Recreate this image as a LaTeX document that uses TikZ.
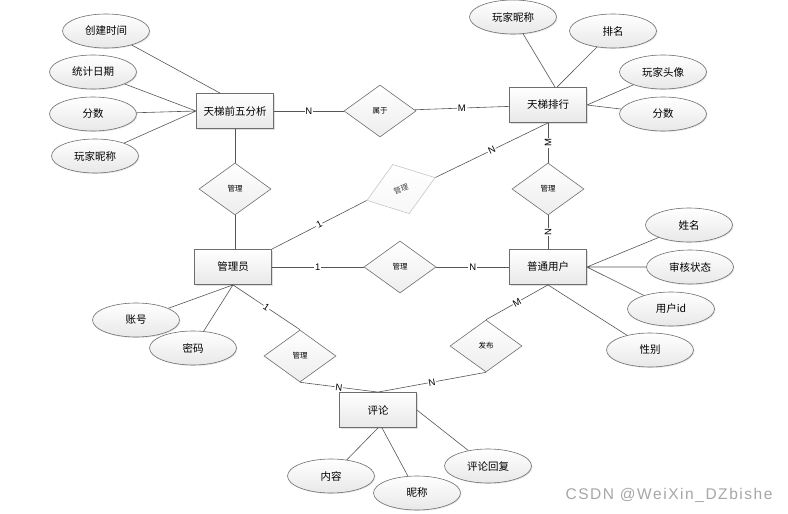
\documentclass[tikz,border=0pt]{standalone}
\usepackage{fontspec}
\setmainfont{Liberation Sans}
\newfontfamily\cjk{Noto Sans CJK SC}
\newfontfamily\wmfont[LetterSpace=10]{Liberation Sans}
\usetikzlibrary{shapes.geometric,shadows}
\definecolor{edgegray}{RGB}{85,85,85}
\definecolor{boxgray}{RGB}{110,110,110}
\begin{document}
\begin{tikzpicture}[x=1pt,y=-1pt,
    line/.style={draw=edgegray,line width=0.6pt},
    ent/.style={rectangle,draw=boxgray,line width=0.8pt,top color=white,bottom color=gray!18,minimum width=77pt,minimum height=35pt,font=\cjk\fontsize{10.5}{12}\selectfont,drop shadow={opacity=0.25,shadow xshift=1pt,shadow yshift=-1pt}},
    attr/.style={ellipse,draw=boxgray,line width=0.6pt,top color=white,bottom color=gray!18,minimum width=87pt,minimum height=34pt,inner sep=0pt,font=\cjk\fontsize{10.5}{12}\selectfont,drop shadow={opacity=0.2,shadow xshift=1pt,shadow yshift=-1pt}},
    rel/.style={diamond,draw=boxgray,line width=0.6pt,top color=white,bottom color=gray!14,minimum width=72pt,minimum height=52pt,inner sep=0pt,font=\cjk\fontsize{7.5}{9}\selectfont},
    lab/.style={fill=white,inner sep=0.8pt,font=\fontsize{9.5}{10}\selectfont}]
    \useasboundingbox (0,0) rectangle (788,514);
    \node[ent](jf) at (235,111){天梯前五分析};
    \node[ent](ph) at (548,105){天梯排行};
    \node[ent](gly) at (233,267){管理员};
    \node[ent](yh) at (548,267){普通用户};
    \node[ent](pl) at (378,410){评论};
    \node[rel](sy) at (380,111){属于};
    \node[rel](gl1) at (235,189){管理};
    \node[rel,draw=gray!45,text=gray!55!black,bottom color=gray!6,rotate=18.5](gl2) at (401,189){管理};
    \node[rel](gl3) at (400,267){管理};
    \node[rel](gl4) at (548,189){管理};
    \node[rel](gl5) at (300,356){管理};
    \node[rel](fb) at (486,346){发布};
    \node[attr](cjsj) at (106,31){创建时间};
    \node[attr](tjrq) at (93,72){统计日期};
    \node[attr](fs1) at (93,114){分数};
    \node[attr](nc1) at (95,156){玩家昵称};
    \node[attr](nc2) at (513,17){玩家昵称};
    \node[attr](pm) at (613,31){排名};
    \node[attr](tx) at (663,72){玩家头像};
    \node[attr](fs2) at (663,114){分数};
    \node[attr](xm) at (689,225){姓名};
    \node[attr](shzt) at (690,267){审核状态};
    \node[attr](yhid) at (671,309){用户id};
    \node[attr](xb) at (650,350){性别};
    \node[attr](zh) at (136,320){账号};
    \node[attr](mm) at (193,348){密码};
    \node[attr](nr) at (331,476){内容};
    \node[attr](nc3) at (417,493){昵称};
    \node[attr](hf) at (488,466){评论回复};
    \draw[line](cjsj)--([xshift=-15pt]jf.north);
    \draw[line](tjrq)--(jf.west) (fs1)--(jf.west) (nc1)--(jf.west);
    \draw[line](jf)--node[lab]{N}(sy);
    \draw[line](sy)--node[lab]{M}(ph);
    \draw[line](jf)--(gl1) (gl1)--(gl1|-gly.north);
    \draw[line](gly.north east)--node[lab,sloped]{1}(gl2.west);
    \draw[line](gl2.east)--node[lab,sloped]{N}(ph.south);
    \draw[line](gly)--node[lab]{1}(gl3);
    \draw[line](gl3)--node[lab]{N}(yh);
    \draw[line](ph)--node[lab,rotate=90]{M}(gl4);
    \draw[line](gl4)--node[lab,rotate=90]{N}(yh);
    \draw[line]([xshift=7pt]ph.north)--(nc2) ([xshift=9pt]ph.north)--(pm);
    \draw[line](ph.east)--(tx) (ph.east)--(fs2);
    \draw[line](yh.east)--(xm) (yh.east)--(shzt) (yh.east)--(yhid);
    \draw[line](yh.south)--(xb);
    \draw[line](yh.south)--node[lab,sloped]{M}(fb.north);
    \draw[line](fb.south)--node[lab,sloped]{N}(pl.north);
    \draw[line](gly.south)--node[lab,sloped]{1}(gl5.north);
    \draw[line](gl5.south)--node[lab,sloped]{N}(pl.north);
    \draw[line](gly.south)--(zh) (gly.south)--(mm);
    \draw[line](pl.south)--(nr) ([xshift=4pt]pl.south)--(nc3) (pl.east)--(hf);
    \node[text=gray!70,font=\wmfont\fontsize{15.5}{17}\selectfont,anchor=west](wm) at (562,495){CSDN @WeiXin\_DZbishe};
\end{tikzpicture}
\end{document}
